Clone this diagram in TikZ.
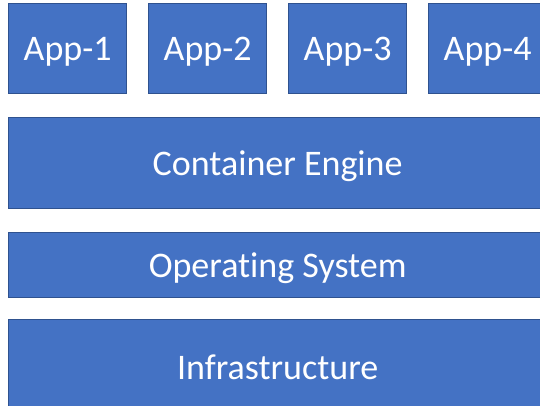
\documentclass[tikz,border=0pt]{standalone}
\usepackage{fontspec}
\setmainfont{Carlito}[Ligatures=NoCommon]
\definecolor{boxfill}{HTML}{4472C4}
\definecolor{boxline}{HTML}{2F528F}
\newcommand\lowtxt[1]{\raisebox{-3pt}[\height][\depth]{#1}}
\begin{document}
\begin{tikzpicture}[x=1pt,y=-1pt,
  layer/.style={draw=boxline, line width=1.3pt, fill=boxfill, text=white, inner sep=0pt, anchor=north west, font=\fontsize{36}{40}\selectfont}]
\useasboundingbox (0,0) rectangle (540,406);
\clip (0,0) rectangle (540,406);
\node[layer, minimum width=118pt, minimum height=90pt] (app1) at (8,3) {\lowtxt{App-1}};
\node[layer, minimum width=118pt, minimum height=90pt] (app2) at (148,3) {\lowtxt{App-2}};
\node[layer, minimum width=118pt, minimum height=90pt] (app3) at (288,3) {\lowtxt{App-3}};
\node[layer, minimum width=118pt, minimum height=90pt] (app4) at (428,3) {\lowtxt{App-4}};
\node[layer, minimum width=538pt, minimum height=91pt] (engine) at (8,117) {\lowtxt{Container Engine}};
\node[layer, minimum width=538pt, minimum height=65pt] (os) at (8,232) {\lowtxt{Operat\kern0pt ing System}};
\node[layer, minimum width=538pt, minimum height=90pt] (infra) at (8,319) {\lowtxt{Infrastructure}};
\end{tikzpicture}
\end{document}
